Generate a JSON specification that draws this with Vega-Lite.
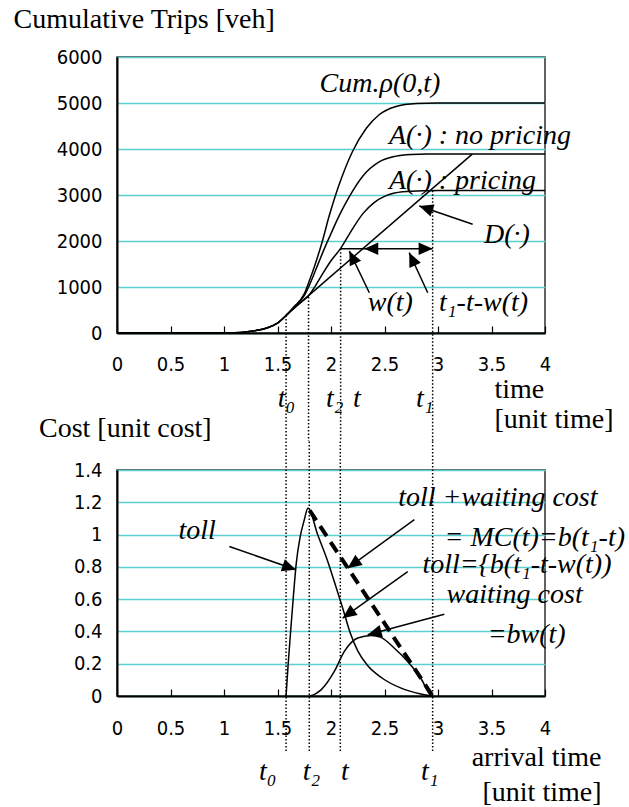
{
  "$schema": "https://vega.github.io/schema/vega-lite/v6.json",
  "padding": {"left": 12, "top": 4, "right": 0, "bottom": 0},
  "background": "white",
  "spacing": 137,
  "bounds": "flush",
  "config": {
    "view": {"stroke": "#2f2f2f", "strokeWidth": 1.5},
    "axis": {
      "labelFont": "Liberation Sans Narrow, Arial Narrow, DejaVu Sans Condensed, sans-serif",
      "labelFontSize": 20,
      "labelColor": "black",
      "titleFont": "Liberation Serif, Times New Roman, Times, DejaVu Serif, serif",
      "titleFontSize": 28,
      "titleFontWeight": "normal",
      "titleColor": "black",
      "grid": false,
      "domainColor": "black",
      "domainWidth": 2,
      "labelFlush": false,
      "labelOverlap": false
    }
  },
  "datasets": {
    "topCurves": [
      {"s": "cum", "x": 0, "y": 0}, {"s": "cum", "x": 1.0, "y": 0}, {"s": "cum", "x": 1.1, "y": 6}, {"s": "cum", "x": 1.2, "y": 22}, {"s": "cum", "x": 1.3, "y": 55}, {"s": "cum", "x": 1.4, "y": 110}, {"s": "cum", "x": 1.5, "y": 215}, {"s": "cum", "x": 1.58, "y": 380},
      {"s": "cum", "x": 1.65, "y": 560}, {"s": "cum", "x": 1.75, "y": 850}, {"s": "cum", "x": 1.8, "y": 1150}, {"s": "cum", "x": 1.85, "y": 1480}, {"s": "cum", "x": 1.92, "y": 2000}, {"s": "cum", "x": 1.98, "y": 2520}, {"s": "cum", "x": 2.04, "y": 2980}, {"s": "cum", "x": 2.1, "y": 3380}, {"s": "cum", "x": 2.2, "y": 3940}, {"s": "cum", "x": 2.33, "y": 4450}, {"s": "cum", "x": 2.45, "y": 4745}, {"s": "cum", "x": 2.6, "y": 4920}, {"s": "cum", "x": 2.8, "y": 4990}, {"s": "cum", "x": 3.0, "y": 5000}, {"s": "cum", "x": 4.0, "y": 5000},
      {"s": "anp", "x": 0, "y": 0}, {"s": "anp", "x": 1.0, "y": 0}, {"s": "anp", "x": 1.1, "y": 6}, {"s": "anp", "x": 1.2, "y": 22}, {"s": "anp", "x": 1.3, "y": 55}, {"s": "anp", "x": 1.4, "y": 110}, {"s": "anp", "x": 1.5, "y": 215}, {"s": "anp", "x": 1.58, "y": 380},
      {"s": "anp", "x": 1.65, "y": 550}, {"s": "anp", "x": 1.75, "y": 810}, {"s": "anp", "x": 1.8, "y": 1050}, {"s": "anp", "x": 1.85, "y": 1330}, {"s": "anp", "x": 1.9, "y": 1620}, {"s": "anp", "x": 1.95, "y": 1900}, {"s": "anp", "x": 2.0, "y": 2160}, {"s": "anp", "x": 2.05, "y": 2420}, {"s": "anp", "x": 2.1, "y": 2660}, {"s": "anp", "x": 2.17, "y": 2960}, {"s": "anp", "x": 2.3, "y": 3420}, {"s": "anp", "x": 2.45, "y": 3720}, {"s": "anp", "x": 2.6, "y": 3840}, {"s": "anp", "x": 2.75, "y": 3880}, {"s": "anp", "x": 2.9, "y": 3890}, {"s": "anp", "x": 4.0, "y": 3890},
      {"s": "ap", "x": 0, "y": 0}, {"s": "ap", "x": 1.0, "y": 0}, {"s": "ap", "x": 1.1, "y": 6}, {"s": "ap", "x": 1.2, "y": 22}, {"s": "ap", "x": 1.3, "y": 55}, {"s": "ap", "x": 1.4, "y": 110}, {"s": "ap", "x": 1.5, "y": 215}, {"s": "ap", "x": 1.58, "y": 380},
      {"s": "ap", "x": 1.65, "y": 531}, {"s": "ap", "x": 1.72, "y": 672}, {"s": "ap", "x": 1.79, "y": 812}, {"s": "ap", "x": 1.85, "y": 1010}, {"s": "ap", "x": 1.92, "y": 1280}, {"s": "ap", "x": 2.0, "y": 1570}, {"s": "ap", "x": 2.09, "y": 1840}, {"s": "ap", "x": 2.2, "y": 2260}, {"s": "ap", "x": 2.3, "y": 2600}, {"s": "ap", "x": 2.4, "y": 2830}, {"s": "ap", "x": 2.51, "y": 2980}, {"s": "ap", "x": 2.67, "y": 3070}, {"s": "ap", "x": 2.89, "y": 3095}, {"s": "ap", "x": 3.0, "y": 3100}, {"s": "ap", "x": 4.0, "y": 3100},
      {"s": "d", "x": 1.58, "y": 390}, {"s": "d", "x": 3.32, "y": 3890}
    ],
    "topDots": [
      {"x": 1.58, "y": 380, "y2": -2348},
      {"x": 1.79, "y": 780, "y2": -2348},
      {"x": 2.09, "y": 1833, "y2": -2348},
      {"x": 2.95, "y": 3090, "y2": -2348}
    ],
    "topArrows": [
      {"x": 2.09, "y": 1833, "x2": 2.95, "y2": 1833},
      {"x": 3.324, "y": 2363, "x2": 2.825, "y2": 2761},
      {"x": 2.358, "y": 876, "x2": 2.171, "y2": 1783},
      {"x": 2.904, "y": 876, "x2": 2.731, "y2": 1746}
    ],
    "topHeads": [
      {"x": 2.311, "y": 1833, "a": 270},
      {"x": 2.95, "y": 1833, "a": 90},
      {"x": 2.825, "y": 2761, "a": 289},
      {"x": 2.171, "y": 1783, "a": 334},
      {"x": 2.731, "y": 1746, "a": 335}
    ],
    "topText": [
      {"x": 1.893, "y": 5246, "label": "Cum.ρ(0,t)"},
      {"x": 2.542, "y": 4102, "label": "A(·) : no pricing"},
      {"x": 2.542, "y": 3141, "label": "A(·) : pricing"},
      {"x": 3.43, "y": 1963, "label": "D(·)"},
      {"x": 2.343, "y": 478, "label": "w(t)"},
      {"x": 3.01, "y": 478, "label": "t₁-t-w(t)"},
      {"x": 1.502, "y": -1600, "label": "t₀"},
      {"x": 1.953, "y": -1600, "label": "t₂"},
      {"x": 2.206, "y": -1600, "label": "t"},
      {"x": 2.794, "y": -1600, "label": "t₁"}
    ],
    "botCurves": [
      {"s": "toll", "x": 1.58, "y": 0}, {"s": "toll", "x": 1.6, "y": 0.2}, {"s": "toll", "x": 1.625, "y": 0.42}, {"s": "toll", "x": 1.65, "y": 0.63}, {"s": "toll", "x": 1.675, "y": 0.82}, {"s": "toll", "x": 1.71, "y": 0.98}, {"s": "toll", "x": 1.75, "y": 1.09}, {"s": "toll", "x": 1.785, "y": 1.165}, {"s": "toll", "x": 1.875, "y": 1.0}, {"s": "toll", "x": 1.969, "y": 0.835}, {"s": "toll", "x": 2.03, "y": 0.711}, {"s": "toll", "x": 2.109, "y": 0.545}, {"s": "toll", "x": 2.18, "y": 0.39}, {"s": "toll", "x": 2.25, "y": 0.28}, {"s": "toll", "x": 2.34, "y": 0.19}, {"s": "toll", "x": 2.48, "y": 0.11}, {"s": "toll", "x": 2.65, "y": 0.05}, {"s": "toll", "x": 2.84, "y": 0.012}, {"s": "toll", "x": 2.95, "y": 0},
      {"s": "wait", "x": 1.8, "y": 0}, {"s": "wait", "x": 1.85, "y": 0.012}, {"s": "wait", "x": 1.907, "y": 0.038}, {"s": "wait", "x": 2.031, "y": 0.152}, {"s": "wait", "x": 2.125, "y": 0.276}, {"s": "wait", "x": 2.25, "y": 0.359}, {"s": "wait", "x": 2.374, "y": 0.375}, {"s": "wait", "x": 2.467, "y": 0.363}, {"s": "wait", "x": 2.59, "y": 0.297}, {"s": "wait", "x": 2.716, "y": 0.214}, {"s": "wait", "x": 2.84, "y": 0.11}, {"s": "wait", "x": 2.93, "y": 0.007}, {"s": "wait", "x": 2.95, "y": 0}
    ],
    "botMC": [
      {"x": 1.8, "y": 1.15, "x2": 2.95, "y2": 0}
    ],
    "botDots": [
      {"x": 1.58, "y": 1.577, "y2": -0.344},
      {"x": 1.797, "y": 1.577, "y2": -0.344},
      {"x": 2.087, "y": 1.577, "y2": -0.344},
      {"x": 2.95, "y": 1.577, "y2": -0.344}
    ],
    "botArrows": [
      {"x": 1.05, "y": 0.926, "x2": 1.673, "y2": 0.782},
      {"x": 2.779, "y": 1.092, "x2": 2.156, "y2": 0.792},
      {"x": 2.717, "y": 0.771, "x2": 2.109, "y2": 0.482},
      {"x": 3.059, "y": 0.507, "x2": 2.343, "y2": 0.379}
    ],
    "botHeads": [
      {"x": 1.673, "y": 0.782, "a": 109},
      {"x": 2.156, "y": 0.792, "a": 234},
      {"x": 2.109, "y": 0.482, "a": 234},
      {"x": 2.343, "y": 0.379, "a": 255}
    ],
    "botText": [
      {"x": 0.574, "y": 0.970, "label": "toll"},
      {"x": 2.628, "y": 1.174, "label": "toll +waiting cost"},
      {"x": 3.061, "y": 0.932, "label": "= MC(t)=b(t₁-t)"},
      {"x": 2.854, "y": 0.761, "label": "toll={b(t₁-t-w(t))"},
      {"x": 3.08, "y": 0.575, "label": "waiting cost"},
      {"x": 3.464, "y": 0.327, "label": "=bw(t)"},
      {"x": 1.327, "y": -0.523, "label": "t₀"},
      {"x": 1.736, "y": -0.523, "label": "t₂"},
      {"x": 2.093, "y": -0.523, "label": "t"},
      {"x": 2.841, "y": -0.523, "label": "t₁"}
    ]
  },
  "vconcat": [
    {
      "width": 428,
      "height": 276,
      "encoding": {
        "x": {"field": "x", "type": "quantitative", "scale": {"domain": [0, 4], "nice": false, "zero": false},
          "axis": {"values": [0, 0.5, 1, 1.5, 2, 2.5, 3, 3.5, 4], "format": "~g", "tickSize": -7, "tickColor": "black", "tickWidth": 1.2, "labelPadding": 28,
            "title": ["time", "[unit time]"], "titleAngle": 0, "titleAlign": "left", "titleBaseline": "alphabetic", "titleX": 377, "titleY": 64, "titleLineHeight": 30}},
        "y": {"field": "y", "type": "quantitative", "scale": {"domain": [0, 6000], "nice": false},
          "axis": {"values": [0, 1000, 2000, 3000, 4000, 5000, 6000], "format": "d", "ticks": false, "labelPadding": 15, "grid": true, "gridColor": "#5ccfcf", "gridWidth": 1.3,
            "title": "Cumulative Trips [veh]", "titleAngle": 0, "titleAlign": "left", "titleBaseline": "alphabetic", "titleX": -104, "titleY": -30}}
      },
      "layer": [
        {"data": {"name": "topCurves"}, "mark": {"type": "line", "color": "black", "strokeWidth": 1.5, "interpolate": "monotone"}, "encoding": {"detail": {"field": "s"}}},
        {"data": {"name": "topDots"}, "mark": {"type": "rule", "color": "black", "strokeWidth": 1.5, "strokeDash": [1.5, 2]}, "encoding": {"y2": {"field": "y2"}}},
        {"data": {"name": "topArrows"}, "mark": {"type": "rule", "color": "black", "strokeWidth": 1.5}, "encoding": {"x2": {"field": "x2"}, "y2": {"field": "y2"}}},
        {"data": {"name": "topHeads"}, "mark": {"type": "point", "shape": "M0,0L-0.45,1L0.45,1Z", "size": 784, "filled": true, "color": "black", "opacity": 1, "strokeWidth": 0}, "encoding": {"angle": {"field": "a", "type": "quantitative", "scale": null}}},
        {"data": {"name": "topText"}, "mark": {"type": "text", "font": "Liberation Serif, Times New Roman, Times, DejaVu Serif, serif", "fontStyle": "italic", "fontSize": 28, "align": "left", "baseline": "alphabetic", "color": "black"}, "encoding": {"text": {"field": "label"}}}
      ]
    },
    {
      "width": 428,
      "height": 226,
      "encoding": {
        "x": {"field": "x", "type": "quantitative", "scale": {"domain": [0, 4], "nice": false, "zero": false},
          "axis": {"values": [0, 0.5, 1, 1.5, 2, 2.5, 3, 3.5, 4], "format": "~g", "tickSize": -7, "tickColor": "black", "tickWidth": 1.2, "labelPadding": 29,
            "title": ["arrival time", "[unit time]"], "titleAngle": 0, "titleAlign": "right", "titleBaseline": "alphabetic", "titleX": 484, "titleY": 69, "titleLineHeight": 35}},
        "y": {"field": "y", "type": "quantitative", "scale": {"domain": [0, 1.4], "nice": false},
          "axis": {"values": [0, 0.2, 0.4, 0.6, 0.8, 1, 1.2, 1.4], "format": "~g", "ticks": false, "labelPadding": 15, "grid": true, "gridColor": "#5ccfcf", "gridWidth": 1.3,
            "title": "Cost [unit cost]", "titleAngle": 0, "titleAlign": "left", "titleBaseline": "alphabetic", "titleX": -78.5, "titleY": -33.5}}
      },
      "layer": [
        {"data": {"name": "botCurves"}, "mark": {"type": "line", "color": "black", "strokeWidth": 1.5, "interpolate": "monotone"}, "encoding": {"detail": {"field": "s"}}},
        {"data": {"name": "botMC"}, "mark": {"type": "rule", "color": "black", "strokeWidth": 4, "strokeDash": [12, 7]}, "encoding": {"x2": {"field": "x2"}, "y2": {"field": "y2"}}},
        {"data": {"name": "botDots"}, "mark": {"type": "rule", "color": "black", "strokeWidth": 1.5, "strokeDash": [1.5, 2]}, "encoding": {"y2": {"field": "y2"}}},
        {"data": {"name": "botArrows"}, "mark": {"type": "rule", "color": "black", "strokeWidth": 1.5}, "encoding": {"x2": {"field": "x2"}, "y2": {"field": "y2"}}},
        {"data": {"name": "botHeads"}, "mark": {"type": "point", "shape": "M0,0L-0.45,1L0.45,1Z", "size": 784, "filled": true, "color": "black", "opacity": 1, "strokeWidth": 0}, "encoding": {"angle": {"field": "a", "type": "quantitative", "scale": null}}},
        {"data": {"name": "botText"}, "mark": {"type": "text", "font": "Liberation Serif, Times New Roman, Times, DejaVu Serif, serif", "fontStyle": "italic", "fontSize": 28, "align": "left", "baseline": "alphabetic", "color": "black"}, "encoding": {"text": {"field": "label"}}}
      ]
    }
  ]
}
